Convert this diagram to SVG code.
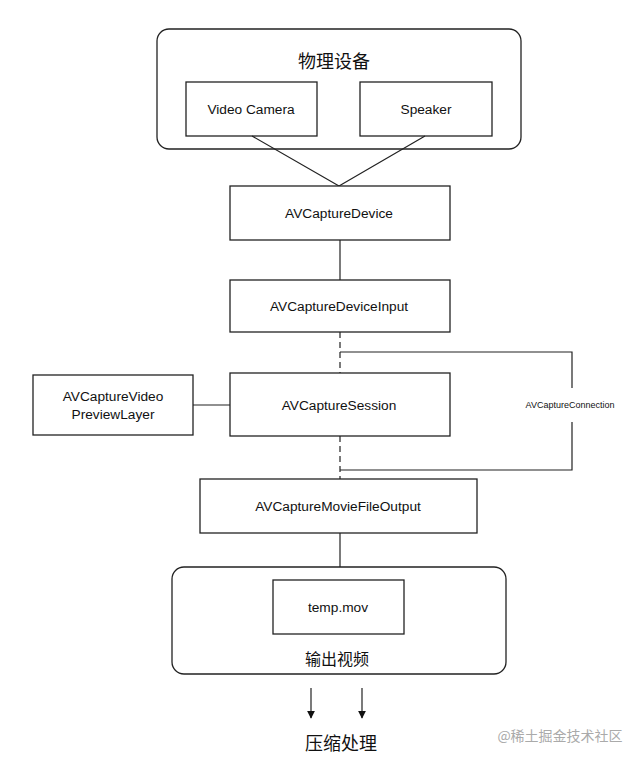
<svg xmlns="http://www.w3.org/2000/svg" width="640" height="761" viewBox="0 0 640 761">
<defs>
<style>
.box{fill:#fff;stroke:#222;stroke-width:1.3}
.grp{fill:#fff;stroke:#222;stroke-width:1.3}
.ln{fill:none;stroke:#222;stroke-width:1.2}
.dash{fill:none;stroke:#222;stroke-width:1.2;stroke-dasharray:6 4}
.t{font-family:"Liberation Sans",Arial,sans-serif;font-size:13.7px;fill:#111;text-anchor:middle;dominant-baseline:central}
.cn{font-family:"Noto Sans CJK SC","Liberation Sans",sans-serif;fill:#111;text-anchor:middle;dominant-baseline:central}
</style>
<marker id="ah" viewBox="0 0 10 10" refX="9" refY="5" markerWidth="8" markerHeight="8" markerUnits="userSpaceOnUse" orient="auto">
<path d="M0,0 L10,5 L0,10 z" fill="#111"/>
</marker>
</defs>
<rect width="640" height="761" fill="#fff"/>
<g id="physical">
<rect class="grp" x="157" y="29" width="364" height="120" rx="12"/>
<text class="cn" x="334" y="60" font-size="18">物理设备</text>
</g>
<g id="videocamera">
<rect class="box" x="186" y="82" width="131" height="54"/>
<text class="t" x="251" y="109">Video Camera</text>
</g>
<g id="speaker">
<rect class="box" x="360" y="82" width="132" height="54"/>
<text class="t" x="426" y="109">Speaker</text>
</g>
<g id="connectors">
<path class="ln" d="M252,136 L339,186 M425,136 L339,186"/>
<path class="ln" d="M340,240 V280"/>
<path class="dash" d="M340,332 V373"/>
<path class="dash" d="M340,436 V479"/>
<path class="ln" d="M193,405 H230"/>
<path class="ln" d="M340,352 H572 V388 M572,422 V470 H340"/>
<path class="ln" d="M340,533 V580"/>
<path class="ln" d="M311,688 V718" marker-end="url(#ah)"/>
<path class="ln" d="M362,688 V718" marker-end="url(#ah)"/>
</g>
<g id="avcapturedevice">
<rect class="box" x="230" y="186" width="220" height="54"/>
<text class="t" x="339" y="213">AVCaptureDevice</text>
</g>
<g id="avcapturedeviceinput">
<rect class="box" x="230" y="280" width="220" height="52"/>
<text class="t" x="339" y="306">AVCaptureDeviceInput</text>
</g>
<g id="previewlayer">
<rect class="box" x="33" y="375" width="160" height="60"/>
<text class="t" x="113" y="396">AVCaptureVideo</text>
<text class="t" x="113" y="414">PreviewLayer</text>
</g>
<g id="avcapturesession">
<rect class="box" x="230" y="373" width="220" height="63"/>
<text class="t" x="339" y="405">AVCaptureSession</text>
</g>
<g id="avcaptureconnection">
<text class="t" x="570" y="405" style="font-size:9px">AVCaptureConnection</text>
</g>
<g id="moviefileoutput">
<rect class="box" x="200" y="479" width="277" height="54"/>
<text class="t" x="338" y="506">AVCaptureMovieFileOutput</text>
</g>
<g id="outputvideo">
<rect class="grp" x="172" y="567" width="334" height="107" rx="12"/>
<text class="cn" x="337" y="658" font-size="16">输出视频</text>
</g>
<g id="tempmov">
<rect class="box" x="273" y="580" width="131" height="54"/>
<text class="t" x="338" y="607">temp.mov</text>
</g>
<g id="compress">
<text class="cn" x="341" y="742" font-size="18">压缩处理</text>
</g>
<text class="cn" x="560" y="735" font-size="14" style="fill:#aaa">@稀土掘金技术社区</text>
</svg>
